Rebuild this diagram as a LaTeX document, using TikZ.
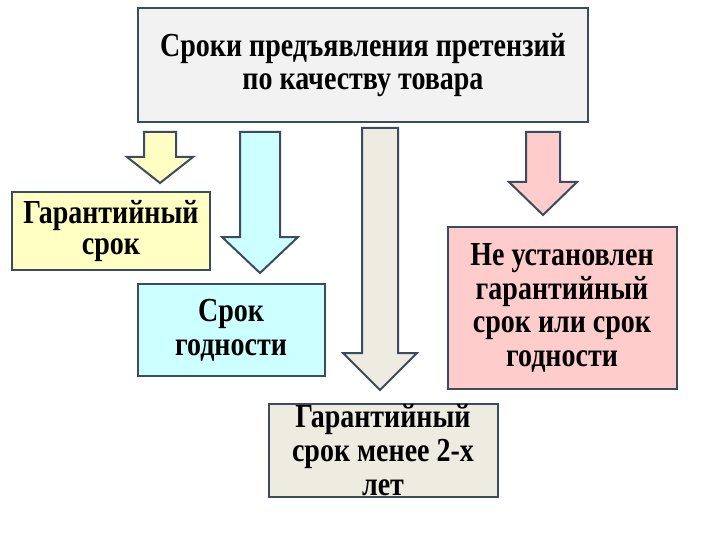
\documentclass[tikz,border=0pt]{standalone}
\usepackage{fontspec}
\setmainfont{Liberation Serif}[BoldFont = {Liberation Serif Bold}]
\definecolor{edge}{HTML}{3D4B5E}
\definecolor{topfill}{HTML}{F2F2F2}
\definecolor{yellowfill}{HTML}{FFFFC4}
\definecolor{cyanfill}{HTML}{CCFFFF}
\definecolor{tanfill}{HTML}{EEECE1}
\definecolor{pinkfill}{HTML}{FFCCCC}
\begin{document}
\begin{tikzpicture}
      [x = 1pt, y = -1pt, line width = 2pt,
       box/.style = {draw = edge, inner sep = 0pt},
       arrowline/.style = {draw = edge, line join = miter},
       txt/.style = {align = center, inner sep = 0pt, transform shape, yscale = 1.2,
                     font = \bfseries\fontsize{28}{28}\selectfont}]
      \path[use as bounding box, fill = white] (0,0) rectangle (720,540);
      % boxes
      \foreach \name/\cx/\cy/\w/\h/\col in
        {top/363/65/450/114/topfill, warranty/111/231/198/77/yellowfill,
         shelf/231/330/187/92/cyanfill, short/383/450/229/93/tanfill,
         none/562/308/229/162/pinkfill}
        \node[box, fill = \col, minimum width = \w pt, minimum height = \h pt]
          (\name) at (\cx,\cy) {};
      % block arrows
      \foreach \cx/\sw/\hw/\ya/\yb/\yc/\col in
        {160/16/33/132/157/183/yellowfill, 260/20/38/132/237/273/cyanfill,
         380/18/37/128/353/390/tanfill, 543/17/34/132/182/215/pinkfill}
        \draw[arrowline, fill = \col] (\cx-\sw,\ya) -- (\cx+\sw,\ya)
          -- (\cx+\sw,\yb) -- (\cx+\hw,\yb) -- (\cx,\yc) -- (\cx-\hw,\yb)
          -- (\cx-\sw,\yb) -- cycle;
      % texts
      \node[txt] (topText) at (top) {Сроки предъявления претензий\\по качеству товара};
      \node[txt, font = \bfseries\fontsize{28}{26}\selectfont] (warrantyText)
        at (warranty) {Гарантийный\\срок};
      \node[txt] (shelfText) at (shelf) {Срок\\годности};
      \node[txt] (shortText) at (short) {Гарантийный\\срок менее 2-х\\лет};
      \node[txt] (noneText) at (none) {Не установлен\\гарантийный\\срок или срок\\годности};
    \end{tikzpicture}
\end{document}
